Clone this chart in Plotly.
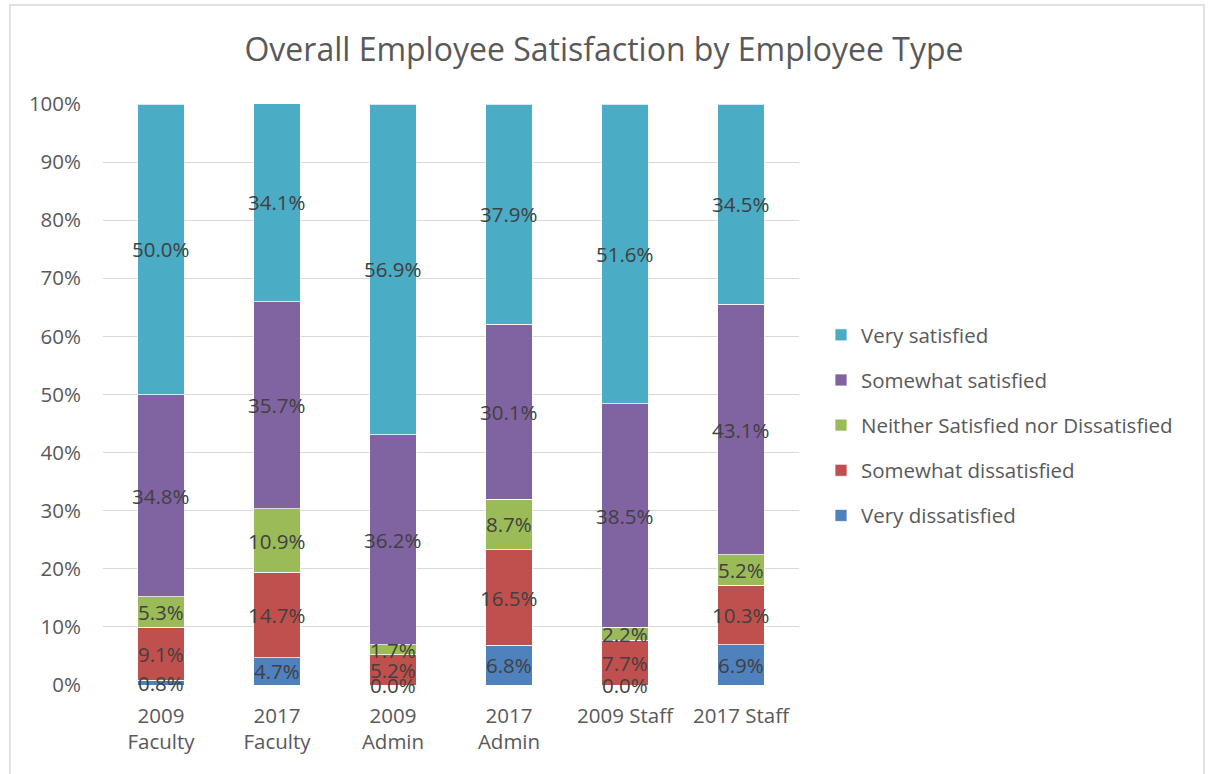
import plotly.graph_objects as go

categories = ["2009<br>Faculty", "2017<br>Faculty", "2009<br>Admin", "2017<br>Admin", "2009 Staff", "2017 Staff"]

series_names = [
    "Very dissatisfied",
    "Somewhat dissatisfied",
    "Neither Satisfied nor Dissatisfied",
    "Somewhat satisfied",
    "Very satisfied",
]

very_dissatisfied = [0.8, 4.7, 0.0, 6.8, 0.0, 6.9]
somewhat_dissatisfied = [9.1, 14.7, 5.2, 16.5, 7.7, 10.3]
neither = [5.3, 10.9, 1.7, 8.7, 2.2, 5.2]
somewhat_satisfied = [34.8, 35.7, 36.2, 30.1, 38.5, 43.1]
very_satisfied = [50.0, 34.1, 56.9, 37.9, 51.6, 34.5]

y_ticks = [0, 10, 20, 30, 40, 50, 60, 70, 80, 90, 100]
y_tick_labels = [f"{t}%" for t in y_ticks]

colors = ["#4F81BD", "#C0504D", "#9BBB59", "#8064A2", "#4BACC6"]
series_values = [very_dissatisfied, somewhat_dissatisfied, neither, somewhat_satisfied, very_satisfied]

FONT = "Open Sans"
TEXT_GREY = "#595959"
LABEL_GREY = "#404040"
FS = 20.5

fig = go.Figure()
annotations = []
base = [0.0] * len(categories)
n = len(series_names)
for k, (name, vals, col) in enumerate(zip(series_names, series_values, colors)):
    fig.add_trace(go.Bar(
        name=name,
        x=categories,
        y=vals,
        marker=dict(color=col, line=dict(color="white", width=0.75)),
        width=0.4,
        legendgroup=name,
        legendrank=n - k,
    ))
    # value labels centred in each stacked segment
    for i, v in enumerate(vals):
        annotations.append(dict(
            x=categories[i], y=base[i] + v / 2, xref="x", yref="y",
            text=f"{v:.1f}%", showarrow=False,
            font=dict(family=FONT, size=FS, color=LABEL_GREY),
        ))
        base[i] += v

# Outer chart frame drawn in paper coordinates around the plot area
L, R, T, B = 103, 799, 104, 685
W, H = 1208, 774
pw, ph = R - L, B - T
def px_x(p):
    return (p - L) / pw
def px_y(p):
    return (B - p) / ph

fig.add_shape(type="rect", xref="paper", yref="paper",
              x0=px_x(10), x1=px_x(1204), y0=px_y(790), y1=px_y(5),
              line=dict(color="#D9D9D9", width=1.5), fillcolor="rgba(0,0,0,0)", layer="below")

fig.update_layout(
    width=W, height=H,
    margin=dict(l=L, r=W - R, t=T, b=H - B),
    barmode="stack",
    paper_bgcolor="white",
    plot_bgcolor="white",
    title=dict(text="Overall Employee Satisfaction by Employee Type",
               x=0.5, xref="container", xanchor="center",
               y=1 - 50 / H, yanchor="middle",
               font=dict(family=FONT, size=32, color=TEXT_GREY)),
    font=dict(family=FONT, size=FS, color=TEXT_GREY),
    legend=dict(x=px_x(821), xanchor="left", y=px_y(315), yanchor="top",
                traceorder="grouped", tracegroupgap=15.5,
                font=dict(family=FONT, size=FS, color=TEXT_GREY),
                itemwidth=30),
    annotations=annotations,
    bargap=0.6,
)
fig.update_xaxes(showgrid=False, showline=False, ticks="", tickfont=dict(size=FS, color=TEXT_GREY),
                 ticklabelstandoff=16)
fig.update_yaxes(range=[0, 100], tickvals=y_ticks, ticktext=y_tick_labels,
                 showgrid=True, gridcolor="#D9D9D9", gridwidth=1, zeroline=False,
                 showline=False, ticks="", tickfont=dict(size=FS, color=TEXT_GREY),
                 ticklabelstandoff=21)

fig.write_html("out.html")
